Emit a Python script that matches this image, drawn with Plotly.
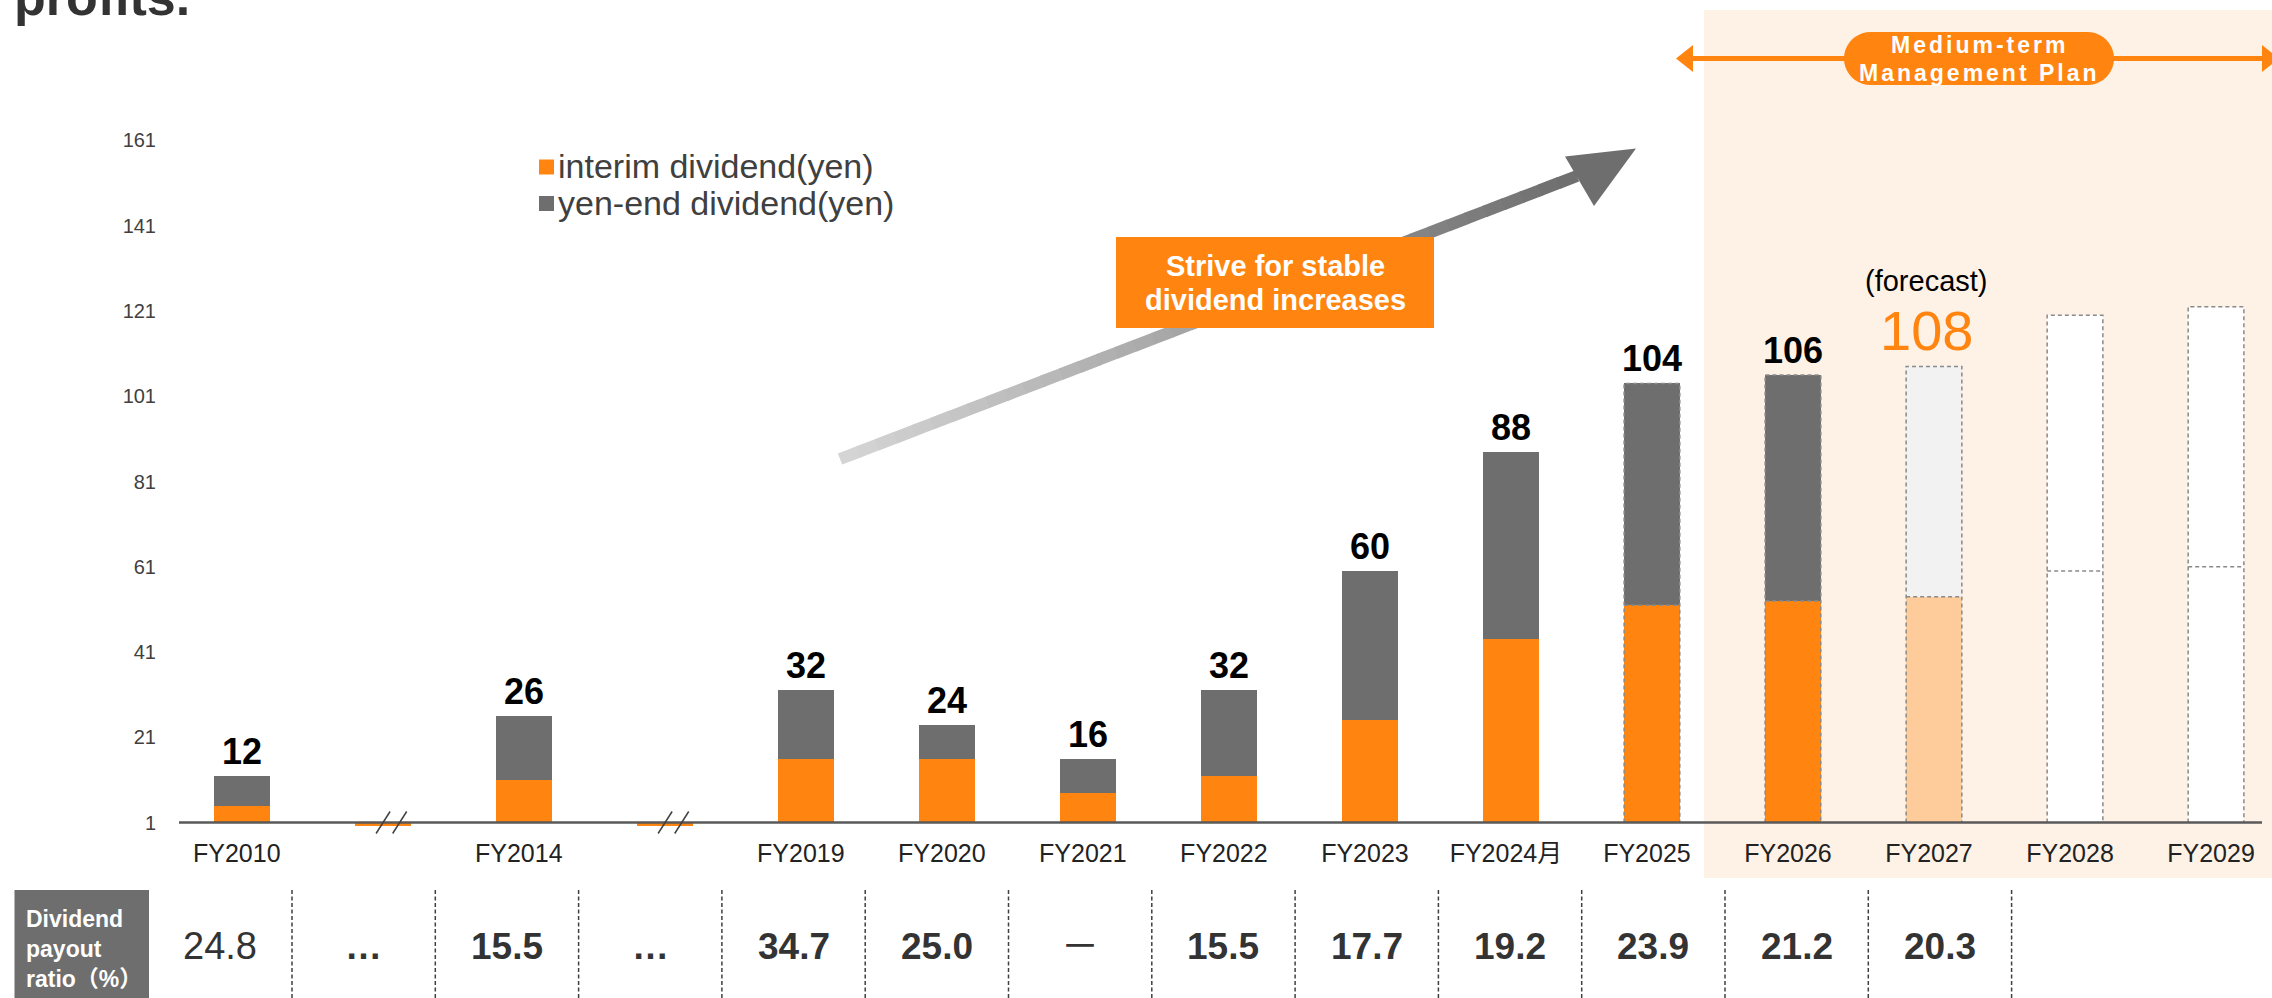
"""
Dividend history chart (interim / year-end dividends + payout ratio table)
"""

import math
import plotly.graph_objects as go

# ---- data ----
CATEGORIES = ["FY2010", "", "FY2014", "", "FY2019", "FY2020", "FY2021", "FY2022",
              "FY2023", "FY2024月", "FY2025", "FY2026", "FY2027", "FY2028", "FY2029"]
INTERIM = [5, None, 11, None, 16, 16, 8, 12, 25, 44, 52, 53, 54, 60, 61]
YEAR_END = [7, None, 15, None, 16, 8, 8, 20, 35, 44, 52, 53, 54, 60, 61]
FORECAST = "FY2027"
PLAN_TARGETS = ["FY2028", "FY2029"]
OUTLINED = ["FY2025", "FY2026", "FY2027", "FY2028", "FY2029"]
Y_TICKS = [1, 21, 41, 61, 81, 101, 121, 141, 161]

PAYOUT_TITLE = "Dividend<br>payout<br>ratio（%）"
PAYOUT_RATIO = ["24.8", "…", "15.5", "…", "34.7", "25.0", "－", "15.5",
                "17.7", "19.2", "23.9", "21.2", "20.3"]

LEGEND_NAMES = ["interim dividend(yen)", "yen-end dividend(yen)"]

# ---- colours ----
ORANGE = "#FF8410"
GREY = "#6E6E6E"
ORANGE_LIGHT = "#FDCC9A"
GREY_LIGHT = "#F2F2F2"
PANEL = "#FEF1E5"
TEXT = "#404040"
FONT = "Liberation Sans, Arial, Noto Sans CJK JP, sans-serif"

# ---- page geometry (pixels) ----
W, H = 2272, 998
L, R, T, B = 179, 10, 68, 172
XMIN, XMAX = -0.445, 14.326
YMIN, YMAX = 0.2, 178
BAR_W = 0.395


def fx(px):
    return (px - L) / (W - L - R)


def fy(py):
    return (H - B - py) / (H - T - B)


def cat_px(i):
    return L + (i - XMIN) / (XMAX - XMIN) * (W - L - R)


def poly(points):
    pts = [f"{fx(x):.5f},{fy(y):.5f}" for x, y in points]
    return "M" + " L".join(pts) + " Z"


def note(x, y, text, size, color, xanchor="center", yanchor="middle", **kw):
    # paper-referenced text, anchors always explicit
    return dict(xref="paper", yref="paper", x=fx(x), y=fy(y), text=text,
                xanchor=xanchor, yanchor=yanchor, showarrow=False,
                font=dict(size=size, color=color), **kw)


idx = list(range(len(CATEGORIES)))
bar_idx = [i for i in idx if INTERIM[i] is not None]
break_idx = [i for i in idx if CATEGORIES[i] == "" and INTERIM[i] is None]
totals = {i: INTERIM[i] + YEAR_END[i] for i in bar_idx}


def colors_for(i, normal, light):
    c = CATEGORIES[i]
    if c == FORECAST:
        return light
    if c in PLAN_TARGETS:
        return "white"
    return normal


fig = go.Figure()

# interim (lower segment, drawn from the axis at 1)
fig.add_trace(go.Bar(
    x=bar_idx,
    base=[1] * len(bar_idx),
    y=[INTERIM[i] - 1 for i in bar_idx],
    width=BAR_W,
    marker=dict(color=[colors_for(i, ORANGE, ORANGE_LIGHT) for i in bar_idx], line_width=0),
    hoverinfo="skip", showlegend=False,
))

# year-end (upper segment)
fig.add_trace(go.Bar(
    x=bar_idx,
    base=[INTERIM[i] for i in bar_idx],
    y=[YEAR_END[i] for i in bar_idx],
    width=BAR_W,
    marker=dict(color=[colors_for(i, GREY, GREY_LIGHT) for i in bar_idx], line_width=0),
    hoverinfo="skip", showlegend=False,
))

# small stubs under the axis at the breaks
fig.add_trace(go.Bar(
    x=break_idx, base=[YMIN] * len(break_idx), y=[1 - YMIN] * len(break_idx),
    width=BAR_W, marker=dict(color=ORANGE, line_width=0),
    hoverinfo="skip", showlegend=False,
))

# dashed outlines for the latest / plan years
ox, oy = [], []
for i in bar_idx:
    if CATEGORIES[i] not in OUTLINED:
        continue
    a, b = i - BAR_W / 2, i + BAR_W / 2
    ox += [a, a, b, b, None, a, b, None]
    oy += [1, totals[i], totals[i], 1, None, INTERIM[i], INTERIM[i], None]
fig.add_trace(go.Scatter(
    x=ox, y=oy, mode="lines",
    line=dict(color="#8A8A8A", width=1.5, dash="4px,3px"),
    hoverinfo="skip", showlegend=False,
))

shapes = []
annotations = []

# Medium-term plan panel
shapes.append(dict(type="rect", xref="paper", yref="paper", layer="below",
                   x0=fx(1704), x1=fx(2300), y0=fy(878), y1=fy(10),
                   fillcolor=PANEL, line_width=0))

# base line at 1
shapes.append(dict(type="line", xref="paper", yref="y", x0=0, x1=1, y0=1, y1=1,
                   line=dict(color="#595959", width=2.5), layer="above"))

# axis break slashes
for i in break_idx:
    c = cat_px(i)
    for dx in (-6.7, 9.9):
        shapes.append(dict(type="line", xref="paper", yref="paper",
                           x0=fx(c + dx), y0=fy(833.5), x1=fx(c + dx + 14), y1=fy(811.5),
                           line=dict(color="#404040", width=1.5)))

# gradient trend arrow
sx, sy, ex, ey = 840, 459, 1577, 176
n = 40
for k in range(n):
    t0, t1 = k / n, min((k + 1.05) / n, 1)
    g = int(214 - (214 - 110) * (k + 0.5) / n)
    shapes.append(dict(type="line", xref="paper", yref="paper",
                       x0=fx(sx + (ex - sx) * t0), y0=fy(sy + (ey - sy) * t0),
                       x1=fx(sx + (ex - sx) * t1), y1=fy(sy + (ey - sy) * t1),
                       line=dict(color=f"rgb({g},{g},{g})", width=12)))
shapes.append(dict(type="path", xref="paper", yref="paper",
                   path=poly([(1636, 148.5), (1565, 156.5), (1594, 206)]),
                   fillcolor="#6E6E6E", line_width=0))

# orange message box
shapes.append(dict(type="rect", xref="paper", yref="paper",
                   x0=fx(1116), x1=fx(1434), y0=fy(328), y1=fy(237),
                   fillcolor=ORANGE, line_width=0))
for txt, yc in (("Strive for stable", 266), ("dividend increases", 300)):
    annotations.append(note(1275, yc, f"<b>{txt}</b>", 29, "white"))

# legend
for (name, col, yc) in ((LEGEND_NAMES[0], ORANGE, 167), (LEGEND_NAMES[1], GREY, 203.5)):
    shapes.append(dict(type="rect", xref="paper", yref="paper",
                       x0=fx(539), x1=fx(554), y0=fy(yc + 7.5), y1=fy(yc - 7.5),
                       fillcolor=col, line_width=0))
    annotations.append(note(556, yc - 1, name, 34, TEXT, xanchor="left"))

# Medium-term Management Plan arrow + pill
shapes.append(dict(type="line", xref="paper", yref="paper",
                   x0=fx(1690), x1=fx(2264), y0=fy(58.5), y1=fy(58.5),
                   line=dict(color=ORANGE, width=5)))
shapes.append(dict(type="path", xref="paper", yref="paper",
                   path=poly([(1676, 58.5), (1693, 45), (1693, 72)]),
                   fillcolor=ORANGE, line_width=0))
shapes.append(dict(type="path", xref="paper", yref="paper",
                   path=poly([(2279, 58.5), (2262, 45), (2262, 72)]),
                   fillcolor=ORANGE, line_width=0))
pr = 26.5
pill = []
for k in range(21):
    a = math.pi / 2 + math.pi * k / 20
    pill.append((1844 + pr + pr * math.cos(a), 58.5 - pr * math.sin(a)))
for k in range(21):
    a = -math.pi / 2 + math.pi * k / 20
    pill.append((2114 - pr + pr * math.cos(a), 58.5 - pr * math.sin(a)))
shapes.append(dict(type="path", xref="paper", yref="paper", path=poly(pill),
                   fillcolor=ORANGE, line_width=0))
for txt, yc in (("Medium-term", 45), ("Management Plan", 73)):
    annotations.append(note(1979, yc,
                            f"<span style='letter-spacing:3px'><b>{txt}</b></span>",
                            23, "white"))

# value labels
for i in bar_idx:
    c = CATEGORIES[i]
    if c in PLAN_TARGETS:
        continue
    if c == FORECAST:
        annotations.append(dict(xref="x", yref="y", x=i, y=totals[i], xshift=-7, yshift=2,
                                xanchor="center", yanchor="bottom", text=str(totals[i]),
                                showarrow=False, font=dict(size=56, color=ORANGE)))
        annotations.append(dict(xref="x", yref="paper", x=i, y=fy(281), xshift=-8,
                                xanchor="center", yanchor="middle",
                                text="(forecast)", showarrow=False,
                                font=dict(size=29, color="black")))
        continue
    annotations.append(dict(xref="x", yref="y", x=i, y=totals[i], yshift=2,
                            xanchor="center", yanchor="bottom",
                            text=f"<b>{totals[i]}</b>", showarrow=False,
                            font=dict(size=36, color="black")))

# cut-off heading line at the very top
annotations.append(note(12, 28, "<b>profits.</b>", 52, "#333333",
                        xanchor="left", yanchor="bottom"))

# payout ratio table
TABLE_X0, TABLE_STEP = 220.35, 143.3
shapes.append(dict(type="rect", xref="paper", yref="paper",
                   x0=fx(14.5), x1=fx(149), y0=fy(1010), y1=fy(890),
                   fillcolor=GREY, line_width=0))
annotations.append(note(24, 949, f"<b>{PAYOUT_TITLE}</b>", 23, "white",
                        xanchor="left", align="left"))
for k in range(len(PAYOUT_RATIO)):
    xs = TABLE_X0 + TABLE_STEP * (k + 0.5)
    shapes.append(dict(type="line", xref="paper", yref="paper",
                       x0=fx(xs), x1=fx(xs), y0=fy(890), y1=fy(1005),
                       line=dict(color="#404040", width=1.5, dash="4px,2.5px")))
for k, txt in enumerate(PAYOUT_RATIO):
    bold = k != 0 and txt != "－"
    annotations.append(note(TABLE_X0 + TABLE_STEP * k, 946,
                            f"<b>{txt}</b>" if bold else txt,
                            37 if bold else 38, "#333333"))

tick_idx = [i for i in idx if CATEGORIES[i]]
fig.update_layout(
    width=W, height=H, autosize=False,
    margin=dict(l=L, r=R, t=T, b=B),
    paper_bgcolor="white", plot_bgcolor="rgba(0,0,0,0)",
    barmode="overlay", bargap=0,
    font=dict(family=FONT, color=TEXT),
    shapes=shapes, annotations=annotations,
    showlegend=False,
    xaxis=dict(range=[XMIN, XMAX], tickvals=tick_idx,
               ticktext=[CATEGORIES[i] for i in tick_idx],
               showgrid=False, zeroline=False, showline=False, ticks="",
               tickfont=dict(size=25, color="#222222"),
               ticklabelstandoff=10, ticklabelshift=-5, fixedrange=True),
    yaxis=dict(range=[YMIN, YMAX], tickvals=Y_TICKS,
               showgrid=False, zeroline=False, showline=False, ticks="",
               tickfont=dict(size=20, color=TEXT),
               ticklabelstandoff=22, fixedrange=True),
)

fig.write_html("out.html", config={"displayModeBar": False},
               post_script="document.body.style.margin='0';")
